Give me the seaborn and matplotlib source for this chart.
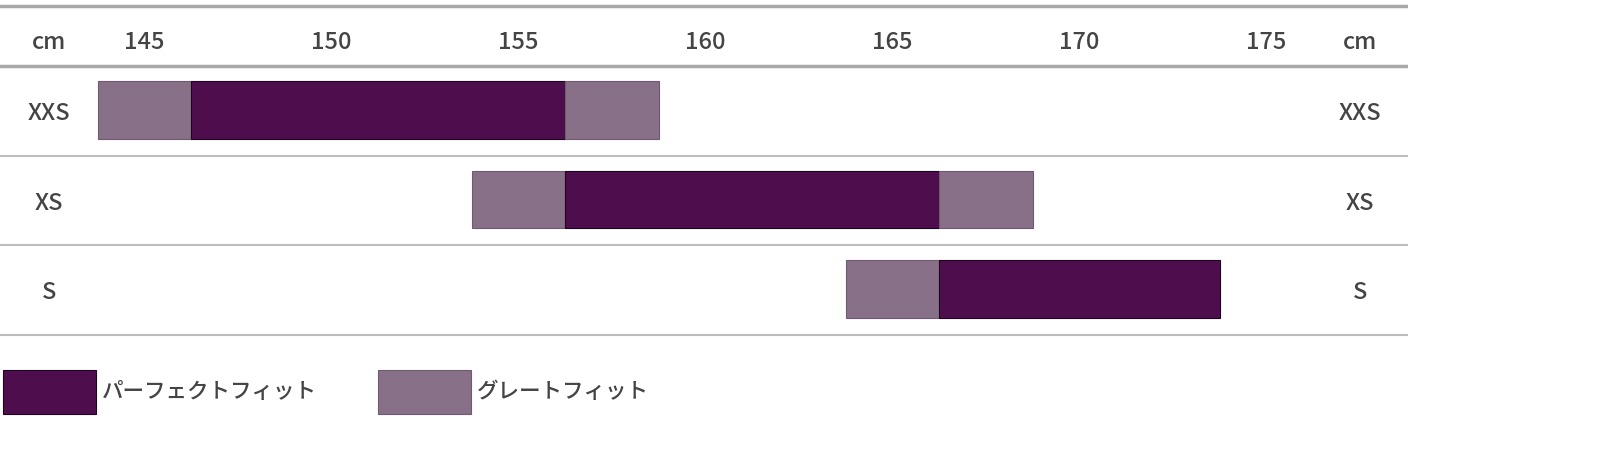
import numpy as np
import matplotlib
matplotlib.use("Agg")
import matplotlib.pyplot as plt
import seaborn as sns

# --- dati (cm) ---
sizes = ["XXS", "XS", "S"]
great_low_start = [143.75, 153.75, 163.75]
perfect_start = [146.25, 156.25, 166.25]
perfect_end = [156.25, 166.25, 173.75]
great_high_end = [158.75, 168.75, np.nan]  # S non ha la parte alta
ticks = [145, 150, 155, 160, 165, 170, 175]
unit = "cm"
legend_labels = ["パーフェクトフィット", "グレートフィット"]

dark = "#4e0e4e"
light = "#877088"
text_col = "#444444"

sns.set_theme(style="white")
plt.rcParams["font.family"] = ["Noto Sans CJK JP", "DejaVu Sans"]
plt.rcParams["font.weight"] = "medium"

fig = plt.figure(figsize=(16, 4.5), dpi=100)
# asse su tutta l'altezza, larghezza fino alla fine delle linee
ax = fig.add_axes([0, 0, 1408 / 1600, 1])
ax.set_xlim(141.14, 178.78)
ax.set_ylim(3.80, -1.229)
ax.axis("off")

ypos = np.arange(len(sizes))
bh = 0.64

# barre "great fit" basse
ax.barh(ypos, np.array(perfect_start) - np.array(great_low_start), left=great_low_start,
        height=bh, color=light, edgecolor="#6f5a70", linewidth=0.8, label=legend_labels[1])
# barre "perfect fit"
ax.barh(ypos, np.array(perfect_end) - np.array(perfect_start), left=perfect_start,
        height=bh, color=dark, edgecolor="#1e041e", linewidth=0.8, label=legend_labels[0])
# barre "great fit" alte (solo dove esistono)
hi = ~np.isnan(great_high_end)
ax.barh(ypos[hi], (np.array(great_high_end) - np.array(perfect_end))[hi],
        left=np.array(perfect_end)[hi], height=bh, color=light,
        edgecolor="#6f5a70", linewidth=0.8)

# linee orizzontali
ax.axhline(-1.157, color="#a8a8a8", lw=2.5)
ax.axhline(-0.49, color="#a8a8a8", lw=2.5)
for i in range(len(sizes)):
    ax.axhline(i + 0.51, color="#bdbdbd", lw=1.5)

# testo: piccolo spostamento in basso per centrare le maiuscole
dy = 0.045
header_y = -0.80 + dy
fs = 17
for t in ticks:
    ax.text(t, header_y, str(t), ha="center", va="center", fontsize=fs, color=text_col)
for xa in (0.0348, 0.966):
    ax.text(xa, header_y, unit, transform=ax.get_yaxis_transform(), ha="center",
            va="center", fontsize=fs, color=text_col)

# etichette taglie a sinistra e a destra
for i, s in enumerate(sizes):
    for xa in (0.0348, 0.966):
        ax.text(xa, i + dy, s, transform=ax.get_yaxis_transform(), ha="center",
                va="center", fontsize=fs, color=text_col)

# legenda
handles, labels = ax.get_legend_handles_labels()
order = [1, 0]
fig.legend([handles[i] for i in order], [labels[i] for i in order],
           loc="center left", bbox_to_anchor=(3 / 1600, 1 - 392 / 450), ncol=2,
           frameon=False, fontsize=15.5, handlelength=4.3, handleheight=2.8,
           handletextpad=0.3, columnspacing=2.85, borderpad=0, borderaxespad=0,
           labelcolor=text_col)

fig.savefig("out.png", dpi=100, facecolor="white")
